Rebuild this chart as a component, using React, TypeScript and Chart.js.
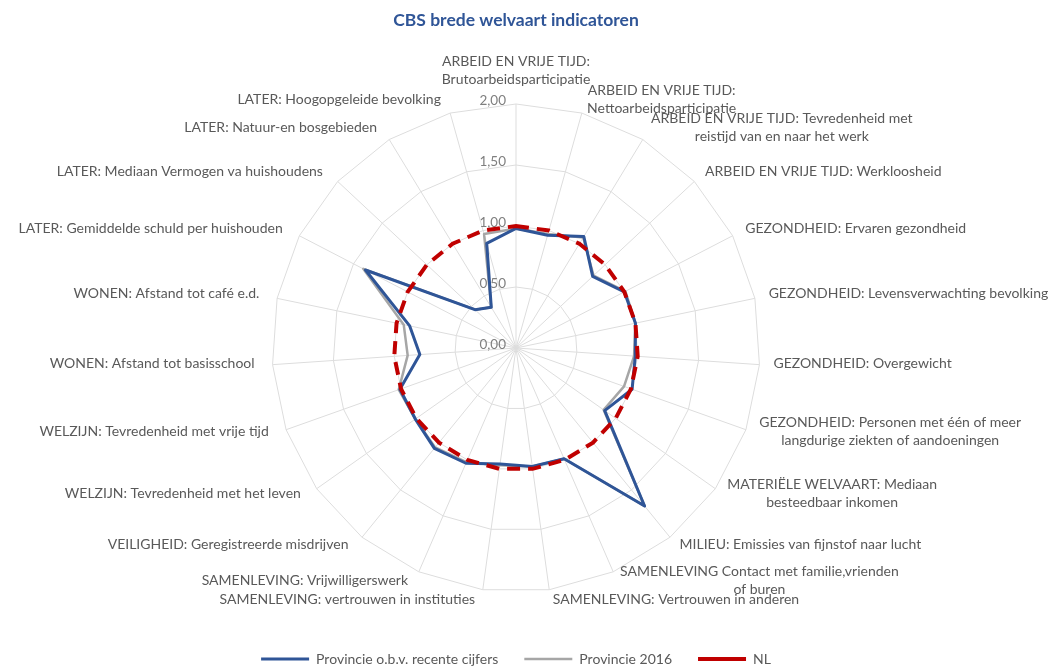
import React, { useEffect, useRef } from "react";
import { Chart, registerables } from "chart.js";

Chart.register(...registerables);

const TITLE = "CBS brede welvaart indicatoren";

const CATEGORIES: (string | string[])[] = [
  ["ARBEID EN VRIJE TIJD:", "Brutoarbeidsparticipatie"],
  ["ARBEID EN VRIJE TIJD:", "Nettoarbeidsparticipatie"],
  ["ARBEID EN VRIJE TIJD: Tevredenheid met", "reistijd van en naar het werk"],
  "ARBEID EN VRIJE TIJD: Werkloosheid",
  "GEZONDHEID: Ervaren gezondheid",
  "GEZONDHEID: Levensverwachting bevolking",
  "GEZONDHEID: Overgewicht",
  ["GEZONDHEID: Personen met één of meer", "langdurige ziekten of aandoeningen"],
  ["MATERIËLE WELVAART: Mediaan", "besteedbaar inkomen"],
  "MILIEU: Emissies van fijnstof naar lucht",
  ["SAMENLEVING Contact met familie,vrienden", "of buren"],
  "SAMENLEVING: Vertrouwen in anderen",
  "SAMENLEVING: vertrouwen in instituties",
  "SAMENLEVING: Vrijwilligerswerk",
  "VEILIGHEID: Geregistreerde misdrijven",
  "WELZIJN: Tevredenheid met het leven",
  "WELZIJN: Tevredenheid met vrije tijd",
  "WONEN: Afstand tot basisschool",
  "WONEN: Afstand tot café e.d.",
  "LATER: Gemiddelde schuld per huishouden",
  "LATER: Mediaan Vermogen va huishoudens",
  "LATER: Natuur-en bosgebieden",
  "LATER: Hoogopgeleide bevolking",
];

const PROVINCIE_RECENT = [
  0.98, 0.96, 1.07, 0.86, 1.0, 1.0, 0.98, 1.01, 0.89, 1.67, 0.99, 0.98,
  0.96, 1.03, 1.06, 1.01, 1.01, 0.79, 0.89, 1.39, 0.46, 0.39, 0.89,
];

const PROVINCIE_2016 = [
  0.98, 0.97, 1.06, 0.87, 1.01, 1.0, 0.97, 0.94, 0.88, 1.67, 0.99, 0.98,
  0.97, 1.02, 1.05, 1.01, 1.02, 0.89, 0.94, 1.41, 0.46, 0.39, 0.97,
];

const NL = [
  1, 1, 1, 1, 1, 1, 1, 1, 1, 1, 1, 1, 1, 1, 1, 1, 1, 1, 1, 1, 1, 1, 1,
];

const SERIES_NAMES = ["Provincie o.b.v. recente cijfers", "Provincie 2016", "NL"];

const TICK_VALUES = [0, 0.5, 1, 1.5, 2];
const TICK_LABELS = ["0,00", "0,50", "1,00", "1,50", "2,00"];

const FONT = "Lato";
const TEXT_COLOR = "#595959";
const RADAR_RADIUS = 244;
const LABEL_GAP = 12;
const LABEL_LINE_H = 18;

const tickLabelPlugin = {
  id: "excelTickLabels",
  beforeDatasetsDraw(chart: any) {
    const scale = chart.scales.r;
    const ctx = chart.ctx;
    ctx.save();
    ctx.font = `13.5px ${FONT}`;
    ctx.fillStyle = "#7F7F7F";
    ctx.textAlign = "right";
    ctx.textBaseline = "middle";
    TICK_VALUES.forEach((v, k) => {
      const d = scale.getDistanceFromCenterForValue(v);
      ctx.fillText(TICK_LABELS[k], scale.xCenter - 10, scale.yCenter - d - 3);
    });
    ctx.restore();
  },
};

const pointLabelPlugin = {
  id: "excelPointLabels",
  afterDraw(chart: any) {
    const scale = chart.scales.r;
    const ctx = chart.ctx;
    const labels = chart.data.labels as (string | string[])[];
    const n = labels.length;
    ctx.save();
    ctx.font = `14px ${FONT}`;
    ctx.fillStyle = TEXT_COLOR;
    ctx.textBaseline = "middle";
    ctx.textAlign = "center";
    for (let i = 0; i < n; i++) {
      const lines = ([] as string[]).concat(labels[i] as any);
      const pos = scale.getPointPosition(i, scale.drawingArea + LABEL_GAP);
      const angleDeg = (i * 360) / n;
      const boxW = Math.max(...lines.map((l) => ctx.measureText(l).width));
      const boxH = lines.length * LABEL_LINE_H;
      let left: number;
      let top: number;
      if (angleDeg < 0.5 || Math.abs(angleDeg - 180) < 0.5) left = pos.x - boxW / 2;
      else if (angleDeg < 180) left = pos.x + 2;
      else left = pos.x - boxW - 6;
      if (angleDeg < 0.5) top = pos.y - boxH - 4;
      else top = pos.y - 2 - boxH / 2;
      lines.forEach((l, k) => {
        ctx.fillText(l, left + boxW / 2, top + LABEL_LINE_H * (k + 0.5));
      });
    }
    ctx.restore();
  },
};

export default function App() {
  const canvasRef = useRef<HTMLCanvasElement | null>(null);

  useEffect(() => {
    const canvas = canvasRef.current;
    if (!canvas) return;
    Chart.defaults.font.family = FONT;
    const chart = new Chart(canvas, {
      type: "radar",
      data: {
        labels: CATEGORIES as any,
        datasets: [
          {
            label: SERIES_NAMES[0],
            data: PROVINCIE_RECENT,
            borderColor: "#2F5597",
            backgroundColor: "rgba(0,0,0,0)",
            borderWidth: 3,
            pointRadius: 0,
            pointHoverRadius: 0,
            fill: false,
            order: 1,
            borderJoinStyle: "round",
          },
          {
            label: SERIES_NAMES[1],
            data: PROVINCIE_2016,
            borderColor: "#A6A6A6",
            backgroundColor: "rgba(0,0,0,0)",
            borderWidth: 2.5,
            pointRadius: 0,
            pointHoverRadius: 0,
            fill: false,
            order: 2,
            borderJoinStyle: "round",
          },
          {
            label: SERIES_NAMES[2],
            data: NL,
            borderColor: "#C00000",
            backgroundColor: "rgba(0,0,0,0)",
            borderWidth: 4,
            borderDash: [13, 8],
            pointRadius: 0,
            pointHoverRadius: 0,
            fill: false,
            order: 0,
          },
        ],
      },
      options: {
        responsive: false,
        animation: false,
        events: [],
        layout: { padding: { left: 0, right: 24, top: 0, bottom: -6 } },
        elements: { line: { tension: 0 } },
        scales: {
          r: {
            min: 0,
            max: 2,
            ticks: { stepSize: 0.5, display: false },
            pointLabels: { display: false },
            grid: { color: "#DDDDDD", lineWidth: 1 },
            angleLines: { color: "#DDDDDD", lineWidth: 1 },
            afterFit: (scale: any) => {
              scale.drawingArea = RADAR_RADIUS;
            },
          },
        },
        plugins: {
          title: {
            display: true,
            text: TITLE,
            color: "#2F5597",
            font: { family: FONT, size: 17.5, weight: "bold" },
            padding: { top: 10, bottom: 39 },
          },
          legend: {
            display: true,
            position: "bottom",
            labels: {
              color: TEXT_COLOR,
              font: { family: FONT, size: 14 },
              usePointStyle: true,
              pointStyle: "line",
              pointStyleWidth: 48,
              padding: 26,
              sort: (a: any, b: any) => a.datasetIndex - b.datasetIndex,
            },
          },
          tooltip: { enabled: false },
        },
      },
      plugins: [tickLabelPlugin, pointLabelPlugin],
    } as any);
    return () => chart.destroy();
  }, []);

  return (
    <canvas
      ref={canvasRef}
      width={1056}
      height={670}
      style={{ position: "absolute", left: 0, top: 0, display: "block", background: "#fff" }}
    />
  );
}
